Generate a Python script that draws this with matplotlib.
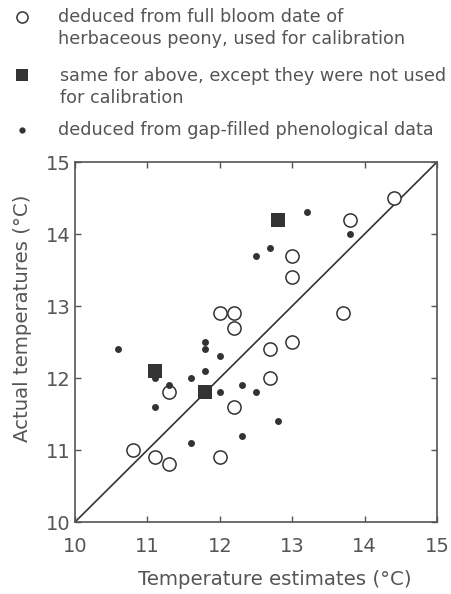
import matplotlib
matplotlib.use("Agg")
import matplotlib.pyplot as plt

# Open circles: deduced from full bloom date of herbaceous peony (calibration)
open_x = [14.4, 13.8, 13.0, 13.0, 12.0, 12.2, 12.2, 13.7, 13.0, 12.7, 12.7, 11.3, 12.2, 10.8, 11.1, 11.3, 12.0]
open_y = [14.5, 14.2, 13.7, 13.4, 12.9, 12.9, 12.7, 12.9, 12.5, 12.4, 12.0, 11.8, 11.6, 11.0, 10.9, 10.8, 10.9]

# Filled squares: not used for calibration
sq_x = [12.8, 11.1, 11.8]
sq_y = [14.2, 12.1, 11.8]

# Small dots: gap-filled phenological data
dot_x = [12.5, 11.8, 13.2, 13.8, 12.7, 10.6, 11.8, 12.0, 11.8, 11.1, 11.3, 11.6, 12.0, 12.3, 12.5, 11.1, 11.6, 12.3, 12.8]
dot_y = [13.7, 12.5, 14.3, 14.0, 13.8, 12.4, 12.4, 12.3, 12.1, 12.0, 11.9, 12.0, 11.8, 11.9, 11.8, 11.6, 11.1, 11.2, 11.4]

ticks = [10, 11, 12, 13, 14, 15]
legend_lines = [
    "deduced from full bloom date of\nherbaceous peony, used for calibration",
    "same for above, except they were not used\nfor calibration",
    "deduced from gap-filled phenological data",
]

plt.rcParams['font.family'] = ['DejaVu Sans']
txt = '#555555'
ink = '#333333'

fig = plt.figure(figsize=(4.51, 5.94), dpi=100)
ax = fig.add_axes([75/451, 72/594, 362/451, 360/594])

ax.plot([10, 15], [10, 15], color=ink, lw=1.2, zorder=1)
ax.plot(dot_x, dot_y, 'o', color=ink, ms=5, mew=0, zorder=3)
ax.plot(open_x, open_y, 'o', mfc='white', mec=ink, ms=9.5, mew=1.1, zorder=2)
ax.plot(sq_x, sq_y, 's', color=ink, ms=9.5, mew=0, zorder=4)

ax.set_xlim(10, 15)
ax.set_ylim(10, 15)
ax.set_xticks(ticks)
ax.set_yticks(ticks)
ax.tick_params(direction='in', length=4, width=1, color='#555555', labelsize=14,
               labelcolor=txt, top=True, right=True)
ax.tick_params(axis='x', pad=11)
ax.tick_params(axis='y', pad=3)
for s in ax.spines.values():
    s.set_color('#555555')
    s.set_linewidth(1.2)
ax.set_xlabel("Temperature estimates (°C)", fontsize=14.2, color=txt)
ax.set_ylabel("Actual temperatures (°C)", fontsize=14.2, color=txt)
ax.xaxis.set_label_coords(0.552, -0.134)
ax.yaxis.set_label_coords(-0.118, 0.567)

# Legend drawn as figure text
def fx(px):
    return px / 451
def fy(py):
    return 1 - py / 594

fig.lines.append(plt.Line2D([fx(22)], [fy(17)], marker='o', mfc='white', mec=ink, ms=8, mew=1.1, transform=fig.transFigure))
fig.lines.append(plt.Line2D([fx(22)], [fy(75)], marker='s', color=ink, ms=8.5, mew=0, transform=fig.transFigure))
fig.lines.append(plt.Line2D([fx(22)], [fy(130)], marker='o', color=ink, ms=4.5, mew=0, transform=fig.transFigure))

fig.text(fx(58), fy(28), legend_lines[0], fontsize=12.7, color=txt, va='center', ha='left', linespacing=1.3)
fig.text(fx(60), fy(87), legend_lines[1], fontsize=12.7, color=txt, va='center', ha='left', linespacing=1.3)
fig.text(fx(58), fy(130), legend_lines[2], fontsize=12.7, color=txt, va='center', ha='left')

fig.savefig("out.png", dpi=100)
